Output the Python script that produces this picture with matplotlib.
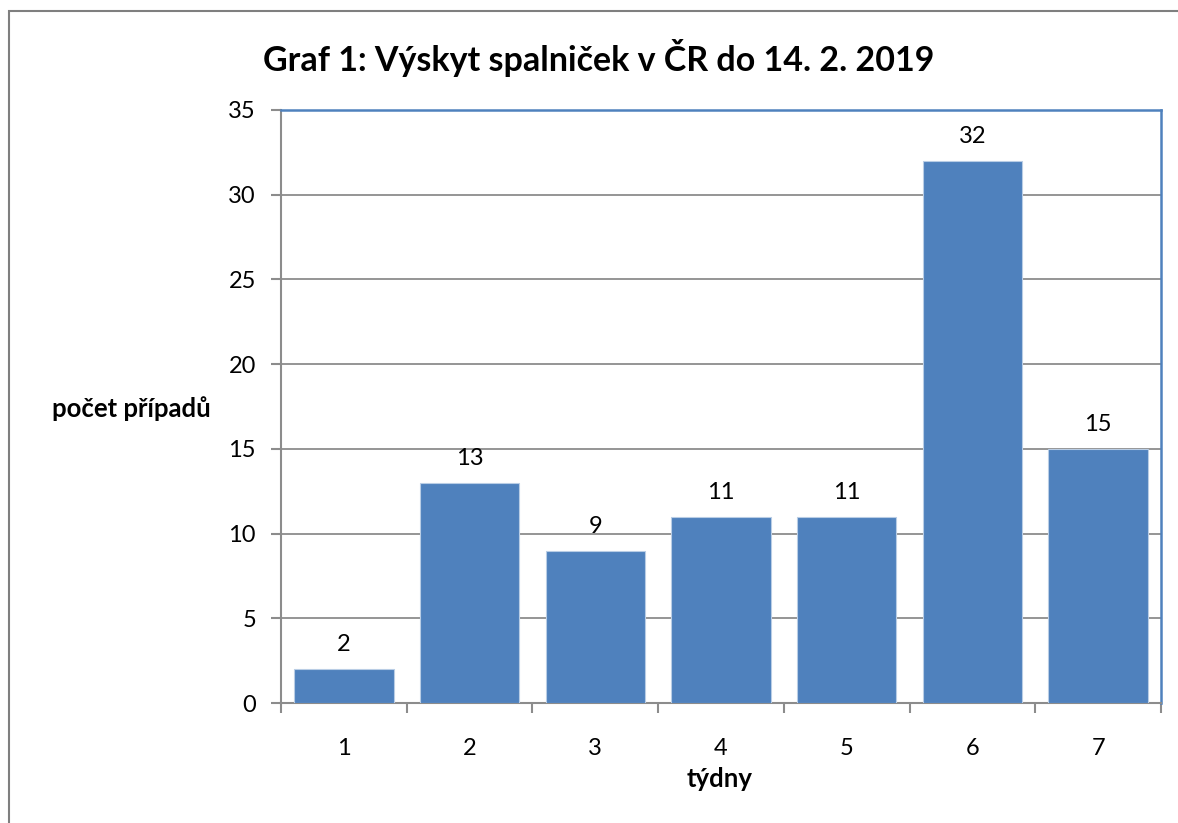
import matplotlib.pyplot as plt
from matplotlib.patches import Rectangle
import numpy as np

# data
weeks = [1, 2, 3, 4, 5, 6, 7]
cases = [2, 13, 9, 11, 11, 32, 15]
y_ticks = [0, 5, 10, 15, 20, 25, 30, 35]

title = "Graf 1: Výskyt spalniček v ČR do 14. 2. 2019"
ylabel = "počet případů"
xlabel = "týdny"

bar_color = '#4F81BD'
grid_color = '#8C8C8C'
font = ['Lato', 'DejaVu Sans']

plt.rcParams['font.family'] = font

fig = plt.figure(figsize=(11.78, 8.23), dpi=100)
W, H = 1178, 823

# outer chart border (runs off right / bottom edge)
fig.patches.append(Rectangle((9 / W, -0.01), 1.2, 1 - 11 / H + 0.01,
                             transform=fig.transFigure, fill=False,
                             edgecolor='#7F7F7F', linewidth=1.5))

ax = fig.add_axes([281 / W, 1 - 703 / H, (1161 - 281) / W, (703 - 110) / H])

x = np.arange(len(weeks))
bars = ax.bar(x, cases, width=0.79, color=bar_color, edgecolor='#B9CDE5',
              linewidth=0.8, zorder=3)

for xi, v in zip(x, cases):
    ax.annotate(str(v), (xi, v), xytext=(0, 10), textcoords='offset points',
                ha='center', va='bottom', fontsize=17, color='black')

ax.set_xlim(-0.5, len(weeks) - 0.5)
ax.set_ylim(0, 35)
ax.set_yticks(y_ticks)
ax.set_yticklabels([str(t) for t in y_ticks], fontsize=17)
ax.set_xticks(x)
ax.set_xticklabels([str(w) for w in weeks], fontsize=17)
ax.set_xticks(np.arange(len(weeks) + 1) - 0.5, minor=True)

ax.tick_params(axis='x', which='major', length=0, pad=25)
ax.tick_params(axis='x', which='minor', length=7, width=1.5, color='#8C8C8C', direction='out')
ax.tick_params(axis='y', length=7, width=1.5, color='#8C8C8C', pad=11)

ax.yaxis.grid(True, color=grid_color, linewidth=1.3, zorder=0)
ax.set_axisbelow(True)

for side in ['left', 'bottom']:
    ax.spines[side].set_color('#8C8C8C')
    ax.spines[side].set_linewidth(1.5)
for side in ['top', 'right']:
    ax.spines[side].set_color(bar_color)
    ax.spines[side].set_linewidth(1.8)

fig.text(599 / W, 1 - 58 / H, title, ha='center', va='center',
         fontsize=24.5, fontweight='bold')
fig.text(131 / W, 1 - 409 / H, ylabel, ha='center', va='center',
         fontsize=18.5, fontweight='bold')
fig.text(720 / W, 1 - 779 / H, xlabel, ha='center', va='center',
         fontsize=18.5, fontweight='bold')

fig.savefig('out.png', dpi=100)
